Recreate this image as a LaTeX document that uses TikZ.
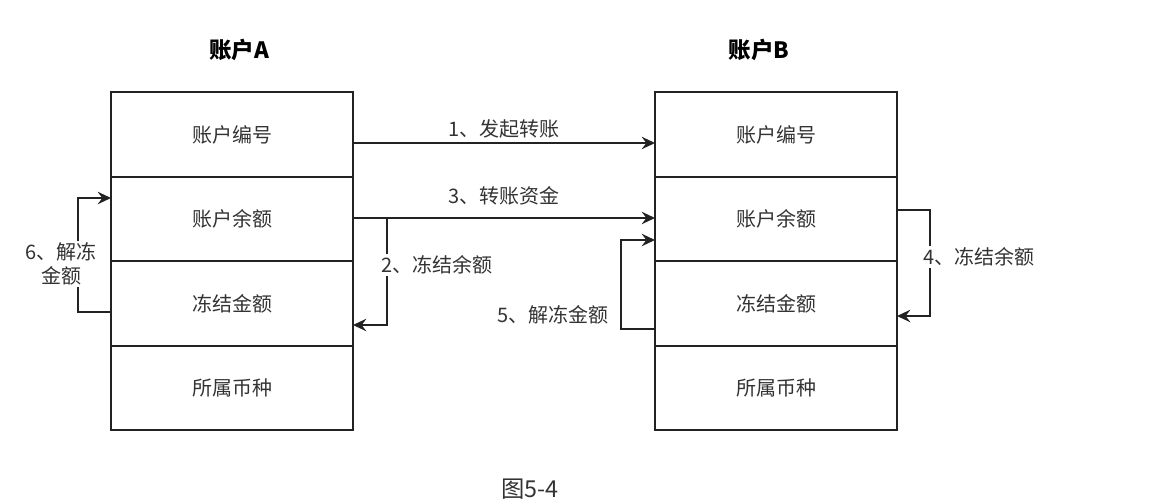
\documentclass[tikz,border=0pt]{standalone}
\usepackage{fontspec}
\setmainfont{Noto Sans CJK SC}
\usetikzlibrary{arrows.meta,positioning,calc}
\definecolor{cline}{RGB}{34,34,34}
\definecolor{ctext}{RGB}{51,51,51}
\newcommand{\rowfont}{\fontsize{12pt}{14.4pt}\selectfont}

\begin{document}
\begin{tikzpicture}[x=0.6pt, y=-0.6pt,
    field/.style={draw=cline, line width=1pt, outer sep=0pt, inner sep=0pt,
                  minimum width=145.2pt, minimum height=50.7pt, font=\rowfont, text=ctext},
    flow/.style={draw=cline, line width=1pt, -{Stealth[length=8pt,width=7.5pt,inset=2.8pt]}},
    lbl/.style={font=\rowfont, text=ctext, inner sep=1pt, align=center},
    acct/.style={font=\fontsize{13.5pt}{16pt}\selectfont\bfseries, text=black}]
  \useasboundingbox (0,0) rectangle (1153,503);

  % account A
  \node[acct] (ta) at (239,50) {账户A};
  \node[field] (a1) at (232,134.5) {账户编号};
  \node[field, below=0pt of a1] (a2) {账户余额};
  \node[field, below=0pt of a2] (a3) {冻结金额};
  \node[field, below=0pt of a3] (a4) {所属币种};

  % account B
  \node[acct] (tb) at (759,50) {账户B};
  \node[field] (b1) at (776,134.5) {账户编号};
  \node[field, below=0pt of b1] (b2) {账户余额};
  \node[field, below=0pt of b2] (b3) {冻结金额};
  \node[field, below=0pt of b3] (b4) {所属币种};

  % steps
  \draw[flow] ([yshift=-5.1pt]a1.east) -- ([yshift=-5.1pt]b1.west)
    node[midway, lbl, yshift=8.2pt] {1、发起转账};
  \draw[flow] ([yshift=0.6pt]a2.east) -- ([yshift=0.6pt]b2.west)
    node[midway, lbl, yshift=13.5pt] {3、转账资金};
  \coordinate (j2) at ($(a2.east)+(20.4pt,0.6pt)$);
  \draw[flow] (j2) |- ([yshift=-12.9pt]a3.east);
  \node[lbl, fill=white] (l2) at (437,265) {2、冻结余额};
  \draw[flow] ([yshift=5.4pt]b2.east) -- ++(19.8pt,0) |- ([yshift=-7.5pt]b3.east);
  \node[lbl, fill=white] (l4) at (979,257) {4、冻结余额};
  \draw[flow] ([yshift=-15.3pt]b3.west) -- ++(-20.4pt,0) |- ([yshift=-12.6pt]b2.west);
  \node[lbl] (l5) at (553,315) {5、解冻金额};
  \draw[flow] ([yshift=-5.1pt]a3.west) -- ++(-19.8pt,0) |- ([yshift=12.6pt]a2.west);
  \node[lbl, fill=white] (l6) at (61,264) {6、解冻\\金额};

  \node[font=\fontsize{14pt}{16pt}\selectfont, text=ctext] (cap) at (530,489) {图5-4};
\end{tikzpicture}
\end{document}
